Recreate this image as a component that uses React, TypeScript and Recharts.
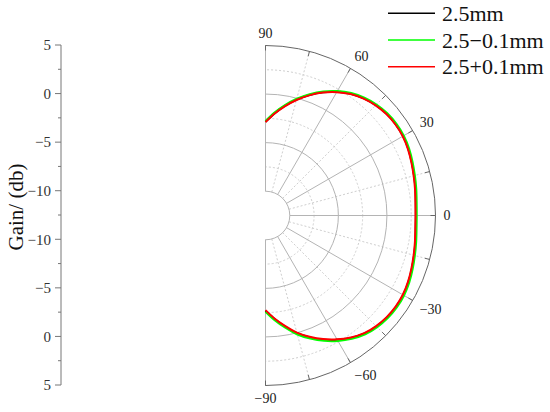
import React from 'react';
import {
  RadarChart,
  Radar,
  PolarGrid,
  PolarAngleAxis,
  PolarRadiusAxis,
  Legend,
  Curve,
  Text,
  LineChart,
  XAxis,
  YAxis,
  Label,
} from 'recharts';

// angle in degrees, gain in dB, every 5 degrees
const ANGLES = [
  -90, -85, -80, -75, -70, -65, -60, -55, -50, -45, -40, -35, -30, -25, -20, -15, -10, -5, 0,
  5, 10, 15, 20, 25, 30, 35, 40, 45, 50, 55, 60, 65, 70, 75, 80, 85, 90,
];
const GAIN_25 = [
  -2.7, -1.8, -0.9, 0.05, 0.85, 1.6, 2.28, 2.88, 3.36, 3.65, 3.83, 3.9, 3.87, 3.73, 3.53, 3.33, 3.16, 3.02, 2.98,
  3.03, 3.17, 3.33, 3.52, 3.72, 3.85, 3.87, 3.78, 3.57, 3.25, 2.8, 2.2, 1.5, 0.7, -0.15, -1.05, -1.95, -2.85,
];
const GAIN_24 = [
  -2.6, -1.68, -0.77, 0.18, 0.98, 1.73, 2.41, 3.0, 3.47, 3.76, 3.93, 4.0, 3.97, 3.83, 3.62, 3.42, 3.25, 3.11, 3.07,
  3.12, 3.26, 3.42, 3.61, 3.81, 3.94, 3.96, 3.87, 3.66, 3.34, 2.89, 2.29, 1.59, 0.79, -0.06, -0.96, -1.87, -2.78,
];
const GAIN_26 = [
  -2.76, -1.86, -0.96, -0.02, 0.79, 1.54, 2.22, 2.82, 3.31, 3.6, 3.78, 3.85, 3.82, 3.68, 3.48, 3.29, 3.12, 2.98, 2.94,
  2.99, 3.13, 3.29, 3.48, 3.68, 3.81, 3.83, 3.74, 3.53, 3.21, 2.76, 2.16, 1.46, 0.66, -0.19, -1.09, -1.99, -2.89,
];

const SERIES_KEYS = ['g25', 'g24', 'g26'];
const SERIES_NAMES = ['2.5mm', '2.5\u22120.1mm', '2.5+0.1mm'];
const SERIES_COLORS = ['#000000', '#00ff00', '#ff0000'];

const ANGLE_TICKS = [-90, -75, -60, -45, -30, -15, 0, 15, 30, 45, 60, 75, 90];
const MAJOR_ANGLES = [-90, -60, -30, 0, 30, 60, 90];
const MINOR_ANGLES = [-75, -45, -15, 15, 45, 75];
const ANGLE_LABELS = ['\u221290', '\u221260', '\u221230', '0', '30', '60', '90'];

const RADIUS_DOMAIN = [-10, 5];
const SOLID_RINGS = [-10, -5, 0];
const DOTTED_RINGS = [-7.5, -2.5, 2.5];
const OUTER_RING = [5];

// left gain scale: runs 5 .. -10 down to the centre hole and back out to 5
const GAIN_AXIS_TICKS = [0, 2.5, 5, 7.5, 10, 12.5, 15, 17.5, 20, 22.5, 25, 27.5, 30, 32.5, 35];
const GAIN_AXIS_LABELS = ['5', '0', '\u22125', '\u221210', '\u221210', '\u22125', '0', '5'];

const W = 550;
const H = 412;
const CX = 265.5;
const CY = 215.5;
const INNER = 24.3;
const OUTER = 170;
const SERIF = '"Liberation Serif", "Times New Roman", serif';

const ringRadius = (v: number) =>
  INNER + ((v - RADIUS_DOMAIN[0]) / (RADIUS_DOMAIN[1] - RADIUS_DOMAIN[0])) * (OUTER - INNER);

const data = ANGLES.map((angle, i) => ({
  angle,
  g25: GAIN_25[i],
  g24: GAIN_24[i],
  g26: GAIN_26[i],
}));

const ANGLE_TICK_SIZE = 8;
const RIM_TICK = 5;

const AngleTick = (props: any) => {
  const { x, y, payload } = props;
  const theta = (-payload.coordinate * Math.PI) / 180;
  const ux = Math.cos(theta);
  const uy = Math.sin(theta);
  const rimX = x - ANGLE_TICK_SIZE * ux;
  const rimY = y - ANGLE_TICK_SIZE * uy;
  const idx = MAJOR_ANGLES.indexOf(payload.value);
  const anchor = ux > 1e-5 ? 'start' : ux < -1e-5 ? 'end' : 'middle';
  const vAnchor = uy < -1e-5 ? 'end' : uy > 1e-5 ? 'start' : 'middle';
  return (
    <g>
      <line x1={rimX} y1={rimY} x2={rimX - RIM_TICK * ux} y2={rimY - RIM_TICK * uy} stroke="#666" />
      {idx >= 0 && (
        <Text
          x={x}
          y={y}
          textAnchor={anchor}
          verticalAnchor={vAnchor}
          fontSize={14}
          fontFamily={SERIF}
          fill="#222"
        >
          {ANGLE_LABELS[idx]}
        </Text>
      )}
    </g>
  );
};

const GAIN_TICK_SIZE = 6;
const GAIN_TICK_MARGIN = 4;

const GainTick = (props: any) => {
  const { x, y, payload } = props;
  const axisX = x + GAIN_TICK_SIZE + GAIN_TICK_MARGIN;
  const major = payload.value % 5 === 0;
  return (
    <g>
      <line x1={axisX} x2={axisX - (major ? 6 : 3)} y1={y} y2={y} stroke="#777" />
      {major && (
        <text x={x} y={y} dy="0.35em" textAnchor="end" fontSize={15} fontFamily={SERIF} fill="#333">
          {GAIN_AXIS_LABELS[payload.value / 5]}
        </text>
      )}
    </g>
  );
};

const GainTitle = (props: any) => {
  const { viewBox } = props;
  const tx = viewBox.x + 16;
  const ty = viewBox.y + viewBox.height / 2 - 8;
  return (
    <text
      x={tx}
      y={ty}
      transform={`rotate(-90, ${tx}, ${ty})`}
      textAnchor="middle"
      dominantBaseline="central"
      fontSize={21}
      fontFamily={SERIF}
      fill="#111"
    >
      Gain/ (db)
    </text>
  );
};

const LEGEND_ROW0 = 13.3;
const LEGEND_ROW_H = 26.7;

const LegendRows = (props: any) => {
  const payload = [...(props.payload || [])].sort(
    (a: any, b: any) => SERIES_NAMES.indexOf(a.value) - SERIES_NAMES.indexOf(b.value),
  );
  return (
    <svg width={165} height={80}>
      {payload.map((p: any, i: number) => {
        const yy = LEGEND_ROW0 + i * LEGEND_ROW_H;
        return (
          <g key={i}>
            <line x1={3} x2={50} y1={yy} y2={yy} stroke={p.color} strokeWidth={1.5} />
            <text x={57} y={yy} dy="0.35em" fontSize={22} fontFamily={SERIF} fill="#111">
              {p.value}
            </text>
          </g>
        );
      })}
    </svg>
  );
};

const openCurve = (color: string) => (props: any) => (
  <Curve type="natural" points={props.points} stroke={color} strokeWidth={2} fill="none" />
);

export default function App() {
  return (
    <div style={{ position: 'absolute', left: 0, top: 0, width: W, height: H, background: '#fff' }}>
      <style>{'.recharts-polar-grid circle { clip-path: url(#rightHalf); }'}</style>
      <svg width={0} height={0} style={{ position: 'absolute' }}>
        <defs>
          <clipPath id="rightHalf" clipPathUnits="userSpaceOnUse">
            <rect x={CX - 0.5} y={0} width={W} height={H} />
          </clipPath>
        </defs>
      </svg>

      <div style={{ position: 'absolute', left: 0, top: 0 }}>
        <RadarChart
          width={W}
          height={H}
          data={data}
          cx={CX}
          cy={CY}
          innerRadius={INNER}
          outerRadius={OUTER}
          startAngle={-90}
          endAngle={90}
          margin={{ top: 0, right: 0, bottom: 0, left: 0 }}
        >
          <PolarGrid
            gridType="circle"
            polarRadius={DOTTED_RINGS.map(ringRadius)}
            polarAngles={MINOR_ANGLES}
            stroke="#cfcfcf"
            strokeDasharray="2 2"
          />
          <PolarGrid
            gridType="circle"
            polarRadius={SOLID_RINGS.map(ringRadius)}
            polarAngles={MAJOR_ANGLES}
            stroke="#b4b4b4"
          />
          <PolarGrid
            gridType="circle"
            polarRadius={OUTER_RING.map(ringRadius)}
            polarAngles={MAJOR_ANGLES}
            radialLines={false}
            stroke="#666"
          />
          <PolarAngleAxis
            dataKey="angle"
            type="number"
            domain={[-90, 90]}
            ticks={ANGLE_TICKS as any}
            tickCount={13}
            tickSize={ANGLE_TICK_SIZE}
            tick={<AngleTick />}
            tickLine={false}
            axisLine={false}
          />
          <PolarRadiusAxis type="number" domain={RADIUS_DOMAIN as any} tick={false} axisLine={false} allowDataOverflow />
          {SERIES_KEYS.map((k, i) => (
            <Radar
              key={k}
              dataKey={k}
              name={SERIES_NAMES[i]}
              stroke={SERIES_COLORS[i]}
              fill="none"
              dot={false}
              isAnimationActive={false}
              shape={openCurve(SERIES_COLORS[i])}
            />
          ))}
          <Legend
            layout="vertical"
            verticalAlign="top"
            align="right"
            content={<LegendRows />}
            wrapperStyle={{ position: 'absolute', left: 385, top: 0, width: 165, height: 80 }}
          />
        </RadarChart>
      </div>

      <div style={{ position: 'absolute', left: 0, top: 0 }}>
        <LineChart width={75} height={H} data={data} margin={{ top: 45, right: 0, bottom: 27, left: 0 }}>
          <XAxis hide dataKey="angle" />
          <YAxis
            type="number"
            domain={[0, 35]}
            allowDataOverflow
            reversed
            ticks={GAIN_AXIS_TICKS}
            interval={0}
            width={61}
            tickSize={GAIN_TICK_SIZE}
            tickMargin={GAIN_TICK_MARGIN}
            tickLine={false}
            axisLine={{ stroke: '#777' }}
            tick={<GainTick />}
          >
            <Label content={<GainTitle />} />
          </YAxis>
        </LineChart>
      </div>
    </div>
  );
}
